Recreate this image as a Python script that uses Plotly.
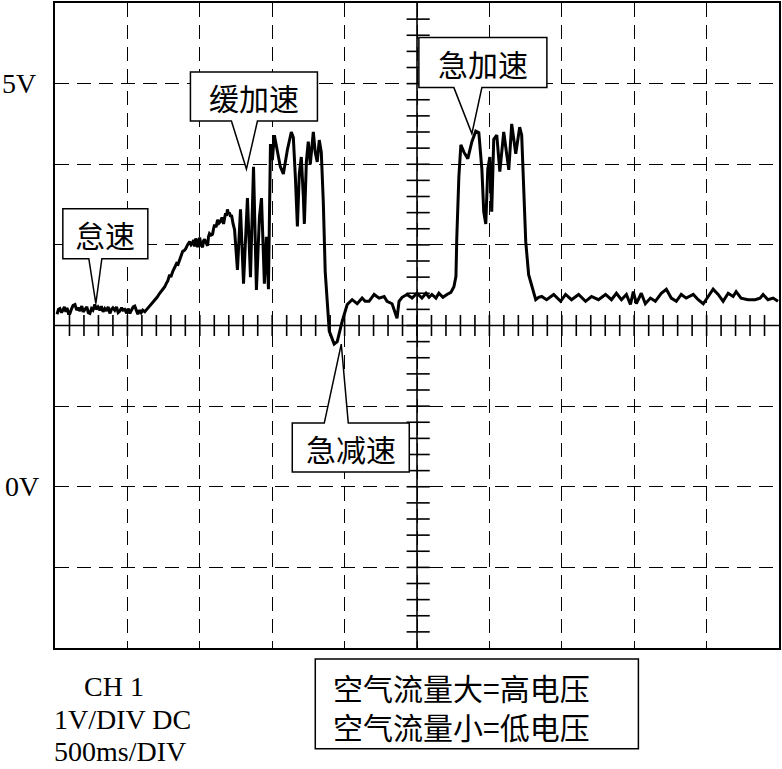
import numpy as np
import plotly.graph_objects as go

# ---- signal trace: time (ms) and voltage (V) ----
time_ms = [
    14, 24, 34, 45, 55, 65, 75, 83, 93, 103, 115, 125, 138, 150, 160, 172, 185, 195, 207, 220,
    230, 241, 252, 262, 275, 285, 297, 310, 320, 332, 344, 355, 367, 379, 390, 400, 413, 425, 436, 448,
    460, 470, 482, 495, 505, 517, 528, 540, 551, 562, 572, 585, 595, 606, 620, 634,
    654, 670, 689, 705, 723, 740, 758, 768, 778, 792, 800, 813, 827, 840, 850, 861, 872, 882, 892, 902,
    915, 930, 940, 950, 957, 964, 972, 985, 992, 999, 1008, 1019, 1026, 1033, 1042, 1054, 1060, 1067,
    1078, 1088, 1095, 1102, 1112, 1123, 1133, 1143, 1153, 1164, 1171, 1178, 1185, 1191, 1198, 1205,
    1212, 1219, 1230,
    1240, 1260, 1281, 1302, 1329, 1350, 1371, 1391, 1412, 1426, 1446, 1460, 1474,
    1488, 1501, 1515, 1536, 1556, 1577, 1605, 1632, 1646, 1660, 1674, 1687, 1701, 1715, 1722, 1736,
    1749, 1763, 1784, 1797, 1811, 1825, 1839, 1853, 1866, 1894, 1928, 1949, 1983, 2018,
    2052, 2087, 2121, 2142, 2169, 2204, 2238, 2273, 2293, 2328, 2348, 2362, 2376, 2397, 2431, 2466,
    2500, 2534, 2562, 2583, 2603, 2631, 2651, 2679, 2707, 2734, 2755,
    2769, 2775, 2789, 2803, 2824, 2851, 2879, 2906, 2927, 2948, 2961, 2975, 2989, 3003, 3016, 3030,
    3051, 3072, 3099, 3134, 3154, 3182, 3209, 3223, 3237, 3251, 3271, 3292, 3320, 3340,
    3361, 3395, 3444, 3492, 3526, 3567, 3616, 3664, 3705, 3753, 3802, 3843, 3877, 3912, 3946, 3974,
    3994, 4015, 4049, 4077, 4112, 4146, 4187, 4222, 4256, 4291, 4325, 4359, 4408, 4442, 4477, 4511,
    4545, 4580, 4614, 4649, 4683, 4704, 4738, 4786, 4835, 4869, 4890, 4924, 4959, 4993,
]
volts = [
    2.14, 2.20, 2.21, 2.16, 2.19, 2.23, 2.17, 2.22, 2.15, 2.15, 2.21, 2.25, 2.26, 2.19, 2.22, 2.18, 2.24, 2.17, 2.20, 2.23,
    2.16, 2.15, 2.21, 2.19, 2.26, 2.20, 2.23, 2.19, 2.24, 2.17, 2.21, 2.18, 2.23, 2.15, 2.20, 2.22, 2.19, 2.23, 2.16, 2.18,
    2.22, 2.19, 2.20, 2.15, 2.21, 2.15, 2.19, 2.23, 2.24, 2.18, 2.14, 2.19, 2.16, 2.19, 2.17, 2.20,
    2.24, 2.27, 2.32, 2.35, 2.40, 2.44, 2.48, 2.52, 2.55, 2.63, 2.60, 2.67, 2.72, 2.77, 2.76, 2.82, 2.86, 2.92, 2.93, 2.95,
    3.00, 3.04, 3.00, 3.02, 3.06, 2.98, 3.08, 2.97, 3.05, 3.09, 3.00, 2.97, 3.05, 3.07, 3.03, 2.99, 3.10, 3.14,
    3.12, 3.13, 3.20, 3.25, 3.22, 3.31, 3.27, 3.29, 3.34, 3.26, 3.33, 3.39, 3.36, 3.44, 3.38, 3.40,
    3.35, 3.37, 3.26,
    3.19, 2.69, 3.44, 2.52, 3.58, 2.60, 3.97, 2.44, 3.35, 3.58, 2.52, 3.10, 2.45,
    4.25, 4.05, 4.36, 4.15, 3.97, 3.88, 4.18, 4.40, 4.33, 3.84, 3.23, 3.88, 4.09, 3.60, 3.26, 4.03,
    4.28, 4.00, 4.40, 4.15, 4.03, 4.30, 4.15, 3.53, 2.67, 1.93, 1.77, 1.80, 2.05, 2.26,
    2.32, 2.27, 2.34, 2.30, 2.30, 2.385, 2.34, 2.36, 2.30, 2.27, 2.15, 2.09, 2.30, 2.35, 2.385, 2.34,
    2.40, 2.34, 2.40, 2.35, 2.385, 2.34, 2.40, 2.35, 2.385, 2.41, 2.48,
    2.61, 3.10, 3.84, 4.24, 4.15, 4.07, 4.28, 4.41, 4.39, 3.94, 3.41, 3.26, 3.94, 4.09, 3.41, 4.31,
    4.36, 3.91, 4.40, 3.93, 4.50, 4.13, 4.46, 4.36, 3.75, 3.04, 2.63, 2.51, 2.32, 2.35,
    2.36, 2.32, 2.385, 2.30, 2.385, 2.32, 2.385, 2.30, 2.36, 2.32, 2.385, 2.32, 2.40, 2.32, 2.385, 2.26,
    2.42, 2.27, 2.40, 2.27, 2.34, 2.30, 2.40, 2.45, 2.34, 2.30, 2.385, 2.34, 2.385, 2.32, 2.27, 2.36,
    2.45, 2.385, 2.30, 2.40, 2.36, 2.42, 2.34, 2.32, 2.32, 2.34, 2.385, 2.32, 2.34, 2.30,
]

# ---- screen scale ----
T_MIN, T_MAX, T_DIV = 0, 5000, 500      # 500 ms/DIV
V_MIN, V_MAX, V_DIV = -2, 6, 1          # 1 V/DIV
CENTER_T, CENTER_V = 2500, 2
axis_labels = ["5V", "0V"]
axis_label_values = [5, 0]

# ---- callouts: label, tip time (ms), tip voltage (V) ----
callout_labels = ["怠速", "缓加速", "急加速", "急减速"]
callout_tip_t = [282, 1322, 2879, 1977]
callout_tip_v = [2.27, 3.94, 4.38, 1.77]

info_lines = ["CH 1", "1V/DIV DC", "500ms/DIV"]
legend_lines = ["空气流量大=高电压", "空气流量小=低电压"]

SERIF = "Liberation Serif, Times New Roman, serif"
CJK = "Noto Sans CJK SC, sans-serif"

fig = go.Figure()

# centre graticule axes with minor ticks
tx, ty = [T_MIN, T_MAX, None, CENTER_T, CENTER_T, None], [CENTER_V, CENTER_V, None, V_MIN, V_MAX, None]
for t in np.arange(T_MIN + 100, T_MAX, 100):
    tx += [t, t, None]
    ty += [CENTER_V - 0.13, CENTER_V + 0.13, None]
for v in np.arange(V_MIN + 0.2, V_MAX - 0.1, 0.2):
    tx += [CENTER_T - 72, CENTER_T + 88, None]
    ty += [v, v, None]
fig.add_trace(go.Scatter(x=tx, y=ty, mode="lines", line=dict(color="black", width=1.6),
                         hoverinfo="skip", showlegend=False))

fig.add_trace(go.Scatter(x=time_ms, y=volts, mode="lines",
                         line=dict(color="black", width=3), showlegend=False))

# callout geometry (pixels relative to tip; +y is up): box x0, x1, y_near, y_far, pointer base xa, xb
geom = [
    (-33, 52, 45, 95, -7, 6),
    (-56, 71, 48, 97, -15, 11),
    (-53, 75, 46, 96, -18, 10),
    (-49, 68, -79, -128, -17, 7),
]
for lab, tt, vv, g in zip(callout_labels, callout_tip_t, callout_tip_v, geom):
    x0, x1, yn, yf, xa, xb = g
    path = (f"M {xa},{yn} L {x0},{yn} L {x0},{yf} L {x1},{yf} L {x1},{yn} "
            f"L {xb},{yn} L 0,0 Z")
    fig.add_shape(type="path", xref="x", yref="y", xsizemode="pixel", ysizemode="pixel",
                  xanchor=tt, yanchor=vv, path=path, fillcolor="white",
                  line=dict(color="black", width=1.5), layer="above")
    fig.add_annotation(x=tt, y=vv, xref="x", yref="y", text=lab, showarrow=False,
                       xshift=(x0 + x1) / 2, yshift=(yn + yf) / 2,
                       font=dict(family=CJK, size=30, color="black"))

for lab, v, sh in zip(axis_labels, axis_label_values, [-17, -14]):
    fig.add_annotation(x=0, y=v, xref="paper", yref="y", text=lab, showarrow=False,
                       xanchor="right", xshift=sh, font=dict(family=SERIF, size=28, color="black"))

for lab, xp, yp in zip(info_lines, [0.037, -0.004, -0.004], [-0.0603, -0.1105, -0.1607]):
    fig.add_annotation(x=xp, y=yp, xref="paper", yref="paper", text=lab, showarrow=False,
                       xanchor="left", yanchor="middle", font=dict(family=SERIF, size=28, color="black"))

fig.add_shape(type="rect", xref="paper", yref="paper", x0=0.3595, x1=0.8058, y0=-0.1561, y1=-0.0170,
              line=dict(color="black", width=1.5), fillcolor="white")
fig.add_annotation(x=0.381, y=-0.0912, xref="paper", yref="paper", text="<br>".join(legend_lines),
                   showarrow=False, xanchor="left", yanchor="middle", align="left",
                   font=dict(family=CJK, size=30, color="black"))

axis_common = dict(showticklabels=False, ticks="", zeroline=False, showgrid=True,
                   gridcolor="black", gridwidth=1.4, griddash="14px,8px",
                   showline=True, mirror=True, linecolor="black", linewidth=2)
fig.update_xaxes(range=[T_MIN, T_MAX], dtick=T_DIV, tick0=0, **axis_common)
fig.update_yaxes(range=[V_MIN, V_MAX], dtick=V_DIV, tick0=0, **axis_common)

fig.update_layout(width=782, height=769, margin=dict(l=55, r=1, t=1, b=121),
                  plot_bgcolor="white", paper_bgcolor="white", showlegend=False)

fig.write_html("out.html", config={"displayModeBar": False})

# remove the browser's default page margin so the figure sits at the window origin
with open("out.html", encoding="utf-8") as f:
    html = f.read()
html = html.replace("<head>", "<head><style>html,body{margin:0;padding:0;overflow:hidden;}</style>", 1)
with open("out.html", "w", encoding="utf-8") as f:
    f.write(html)
